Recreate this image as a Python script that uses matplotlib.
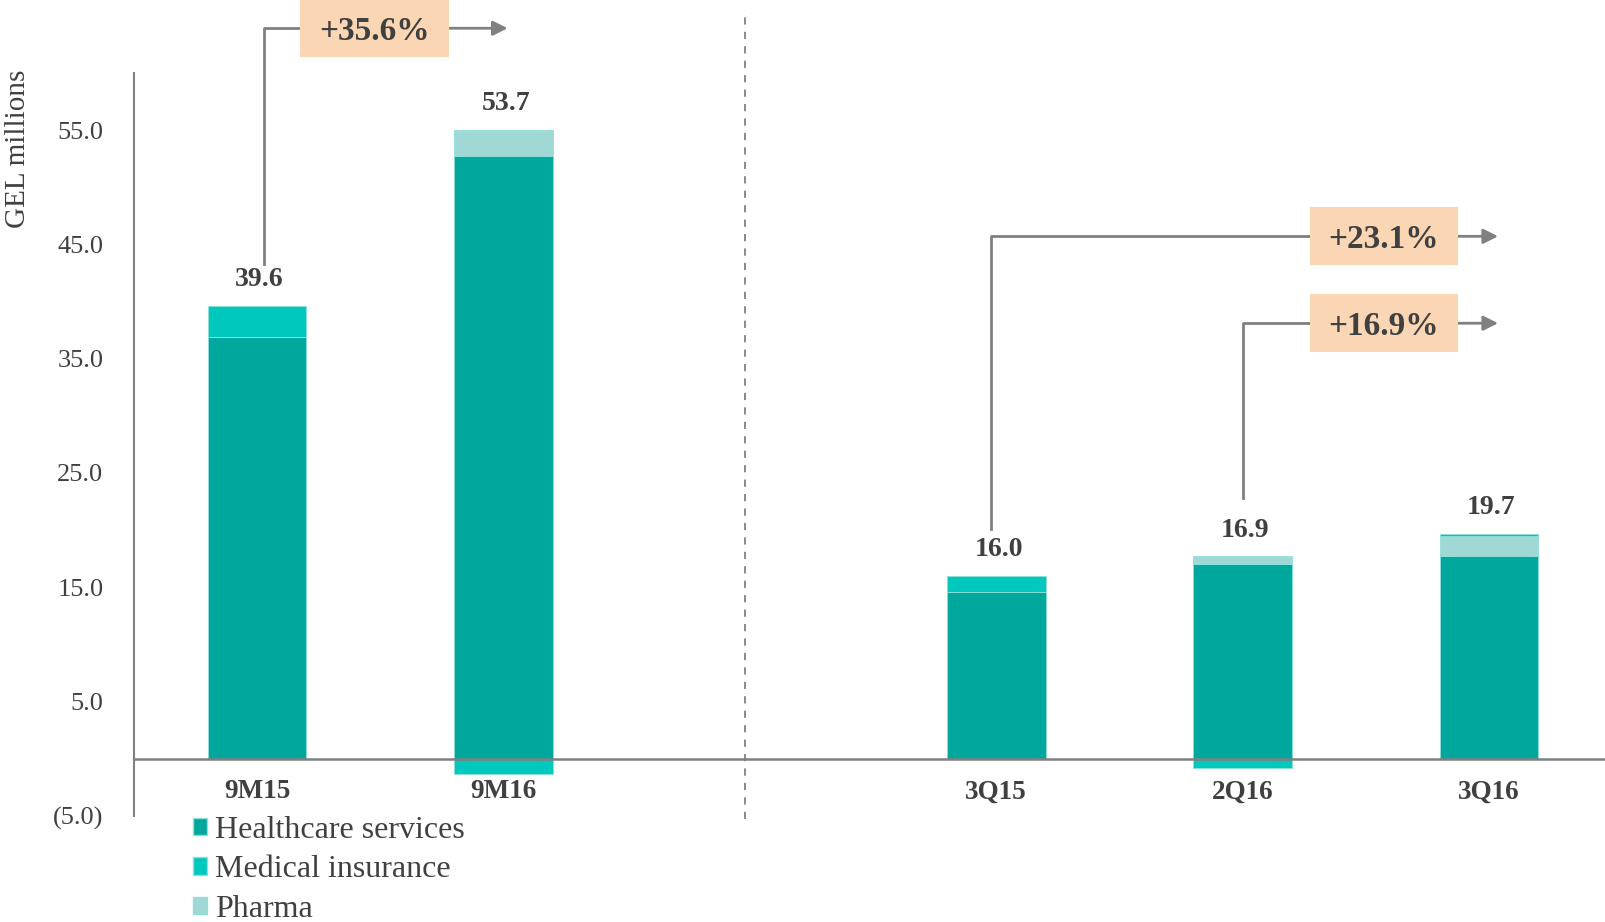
import matplotlib
matplotlib.use("Agg")
import matplotlib.pyplot as plt
from matplotlib.patches import Rectangle, Patch

plt.rcParams['font.family'] = ['Liberation Serif', 'DejaVu Serif']

# data
categories = ['9M15', '9M16', '3Q15', '2Q16', '3Q16']
xpos = [0, 1, 3, 4, 5]
healthcare = [36.9, 52.7, 14.6, 17.0, 17.7]
pharma = [0.0, 2.3, 0.0, 0.7, 1.8]
medical = [2.7, -1.3, 1.4, -0.8, 0.2]
totals = [39.6, 53.7, 16.0, 16.9, 19.7]
yticks = [-5, 5, 15, 25, 35, 45, 55]
ytick_labels = ['(5.0)', '5.0', '15.0', '25.0', '35.0', '45.0', '55.0']
growth_labels = ['+35.6%', '+23.1%', '+16.9%']

c_health = '#00a79d'
c_med = '#00c8bd'
c_pharma = '#9fd8d5'
c_text = '#404040'
c_grey = '#808080'
c_box = '#fad6b5'

fig = plt.figure(figsize=(16.06, 9.22), dpi=100)
ax = fig.add_axes([0.0834, 0.115, 0.9166, 0.806])
ax.set_xlim(-0.5, 5.475)
ax.set_ylim(-5, 60)

w = 0.4
ec = '#8fe0da'
ax.bar(xpos, healthcare, w, color=c_health, edgecolor=ec, linewidth=0.6, label='Healthcare services')
ax.bar(xpos, pharma, w, bottom=healthcare, color=c_pharma, edgecolor=ec, linewidth=0.6, label='Pharma')
med_bottom = [h + p if m > 0 else 0 for h, p, m in zip(healthcare, pharma, medical)]
ax.bar(xpos, medical, w, bottom=med_bottom, color=c_med, edgecolor=ec, linewidth=0.6, label='Medical insurance')

# value labels above positive stack
for x, h, p, m, t in zip(xpos, healthcare, pharma, medical, totals):
    top = h + p + max(m, 0)
    ax.text(x + 0.01, top + 1.2, f'{t:.1f}', ha='center', va='bottom', fontsize=20,
            fontweight='bold', color=c_text)

# category labels
for x, c in zip(xpos, categories):
    ax.text(x, -1.8, c, ha='center', va='top', fontsize=19.5, fontweight='bold', color=c_text)

# axes styling
for s in ['top', 'right', 'bottom']:
    ax.spines[s].set_visible(False)
ax.spines['left'].set_color(c_grey)
ax.spines['left'].set_linewidth(1.5)
ax.axhline(0, color=c_grey, lw=1.8, zorder=3)
ax.set_xticks([])
ax.set_yticks(yticks)
ax.set_yticklabels(ytick_labels, fontsize=19, color=c_text)
ax.tick_params(axis='y', length=0, pad=22)

# separator
ax.plot([1.98, 1.98], [-5.3, 65.5], ls=(0, (4, 4)), color=c_grey, lw=1.3, clip_on=False)

fig.text(0.011, 0.925, 'GEL millions', rotation=90, ha='center', va='top', fontsize=21, color=c_text)

# growth annotations
starts = [(0.027, 43.3), (2.979, 20.1), (4.002, 22.8)]
box_x = [(0.176, 0.779), (4.272, 4.875), (4.272, 4.875)]
box_y = [63.9, 45.7, 38.1]
arrow_end = [1.017, 5.037, 5.037]
bh = 5.05
for lab, (sx, sy), (bx0, bx1), by, ae in zip(growth_labels, starts, box_x, box_y, arrow_end):
    ax.plot([sx, sx, bx0], [sy, by, by], color=c_grey, lw=2, clip_on=False, zorder=4)
    ax.add_patch(Rectangle((bx0, by - bh / 2), bx1 - bx0, bh, facecolor=c_box,
                           edgecolor='none', clip_on=False, zorder=5))
    ax.text((bx0 + bx1) / 2, by - 0.3, lab, ha='center', va='center', fontsize=24,
            fontweight='bold', color=c_text, zorder=6)
    ax.annotate('', xy=(ae, by), xytext=(bx1, by), zorder=4, annotation_clip=False,
                arrowprops=dict(arrowstyle='-|>', color=c_grey, lw=2, mutation_scale=22,
                                shrinkA=0, shrinkB=0))

handles = [Patch(facecolor=c_health, edgecolor=ec), Patch(facecolor=c_med, edgecolor=ec),
           Patch(facecolor=c_pharma, edgecolor=ec)]
leg = fig.legend(handles, ['Healthcare services', 'Medical insurance', 'Pharma'],
                 loc='upper left', bbox_to_anchor=(0.12, 0.1155), frameon=False,
                 fontsize=23, handlelength=0.45, handleheight=0.45, handletextpad=0.25,
                 labelspacing=0.34, borderaxespad=0, borderpad=0)
for t in leg.get_texts():
    t.set_color(c_text)

fig.savefig('out.png', dpi=100)
